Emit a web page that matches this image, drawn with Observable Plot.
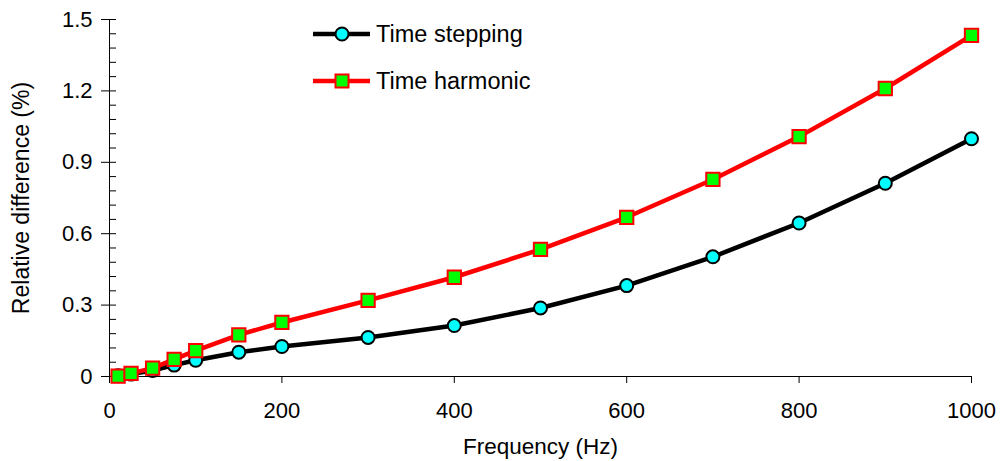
<!DOCTYPE html>
<html>
<head>
<meta charset="utf-8">
<script src="https://cdn.jsdelivr.net/npm/d3@7"></script>
<script src="https://cdn.jsdelivr.net/npm/@observablehq/plot@0.6"></script>
<style>
  html, body { margin: 0; padding: 0; background: #fff; }
  #wrap { position: relative; width: 1003px; height: 461px; font-family: "Liberation Sans", Arial, sans-serif; }
  #legend { position: absolute; left: 0; top: 0; pointer-events: none; }
</style>
</head>
<body>
<div id="wrap"></div>
<script>
// ---- data ----
const freq = [10, 25, 50, 75, 100, 150, 200, 300, 400, 500, 600, 700, 800, 900, 1000];
const timeStepping = [0.003, 0.01, 0.025, 0.048, 0.068, 0.102, 0.126, 0.164, 0.214, 0.288, 0.382, 0.503, 0.645, 0.812, 0.999];
const timeHarmonic = [0.002, 0.013, 0.035, 0.072, 0.109, 0.175, 0.227, 0.320, 0.417, 0.534, 0.669, 0.828, 1.008, 1.210, 1.433];
const seriesNames = ["Time stepping", "Time harmonic"];
const xTicks = [0, 200, 400, 600, 800, 1000];
const yTicks = [0, 0.3, 0.6, 0.9, 1.2, 1.5];
const yMinor = d3.range(0, 1.5001, 0.06).map(v => +v.toFixed(2));

const stepRows = freq.map((f, i) => ({f, v: timeStepping[i]}));
const harmRows = freq.map((f, i) => ({f, v: timeHarmonic[i]}));

const W = 1003, H = 461;
const mL = 109, mR = 32, mT = 19, mB = 85;
const innerW = W - mL - mR;
const font = "Liberation Sans, Arial, sans-serif";

const chart = Plot.plot({
  width: W, height: H,
  marginLeft: mL, marginRight: mR, marginTop: mT, marginBottom: mB,
  style: {fontFamily: font, fontSize: "22px", color: "#000", background: "#fff"},
  x: {domain: [0, 1000]},
  y: {domain: [0, 1.5]},
  marks: [
    // axis lines
    Plot.ruleX([0], {stroke: "#000", strokeWidth: 1}),
    Plot.ruleY([0], {stroke: "#000", strokeWidth: 1}),
    // minor y ticks (inside)
    Plot.tickY(yMinor, {y: d => d, stroke: "#000", strokeWidth: 1, insetRight: innerW - 7}),
    // y axis: outward major ticks + labels
    Plot.axisY({ticks: yTicks, tickSize: 8, tickPadding: 9, tickFormat: d => String(d),
      fontSize: 22, stroke: "#000", strokeOpacity: 1, label: null}),
    Plot.axisY({ticks: [], label: "Relative difference (%)", labelAnchor: "center", labelArrow: "none",
      labelOffset: 97, fontSize: 23, dx: 4}),
    // x axis
    Plot.axisX({ticks: xTicks, tickSize: 7, tickPadding: 19, tickFormat: d => String(d),
      fontSize: 22, stroke: "#000", strokeOpacity: 1, label: null}),
    Plot.axisX({ticks: [], label: "Frequency (Hz)", labelAnchor: "center", labelArrow: "none",
      labelOffset: 77, fontSize: 22.5}),
    // time stepping
    Plot.line(stepRows, {x: "f", y: "v", stroke: "#000", strokeWidth: 4.5}),
    Plot.dot(stepRows, {x: "f", y: "v", r: 6.5, fill: "#00FFFF", stroke: "#000", strokeWidth: 2}),
    // time harmonic
    Plot.line(harmRows, {x: "f", y: "v", stroke: "#FF0000", strokeWidth: 4.5}),
    Plot.dot(harmRows, {x: "f", y: "v", symbol: "square", r: 7.5, fill: "#00FF00", stroke: "#FF0000", strokeWidth: 2})
  ]
});
document.getElementById("wrap").appendChild(chart);

// ---- legend overlay ----
const ns = "http://www.w3.org/2000/svg";
const lg = document.createElementNS(ns, "svg");
lg.setAttribute("id", "legend");
lg.setAttribute("width", W);
lg.setAttribute("height", H);
const items = [
  {name: seriesNames[0], y: 34, stroke: "#000", fill: "#00FFFF", sym: "circle"},
  {name: seriesNames[1], y: 81, stroke: "#FF0000", fill: "#00FF00", sym: "square"}
];
for (const it of items) {
  const ln = document.createElementNS(ns, "line");
  ln.setAttribute("x1", 313); ln.setAttribute("x2", 370);
  ln.setAttribute("y1", it.y); ln.setAttribute("y2", it.y);
  ln.setAttribute("stroke", it.stroke); ln.setAttribute("stroke-width", 4.5);
  lg.appendChild(ln);
  let s;
  if (it.sym === "circle") {
    s = document.createElementNS(ns, "circle");
    s.setAttribute("cx", 342); s.setAttribute("cy", it.y); s.setAttribute("r", 6.5);
  } else {
    s = document.createElementNS(ns, "rect");
    s.setAttribute("x", 342 - 6.5); s.setAttribute("y", it.y - 6.5);
    s.setAttribute("width", 13); s.setAttribute("height", 13);
  }
  s.setAttribute("fill", it.fill); s.setAttribute("stroke", it.stroke); s.setAttribute("stroke-width", 2);
  lg.appendChild(s);
  const t = document.createElementNS(ns, "text");
  t.setAttribute("x", 376); t.setAttribute("y", it.y);
  t.setAttribute("dy", "0.35em");
  t.setAttribute("font-family", font);
  t.setAttribute("font-size", 23.5);
  t.setAttribute("fill", "#000");
  t.textContent = it.name;
  lg.appendChild(t);
}
document.getElementById("wrap").appendChild(lg);
</script>
</body>
</html>
